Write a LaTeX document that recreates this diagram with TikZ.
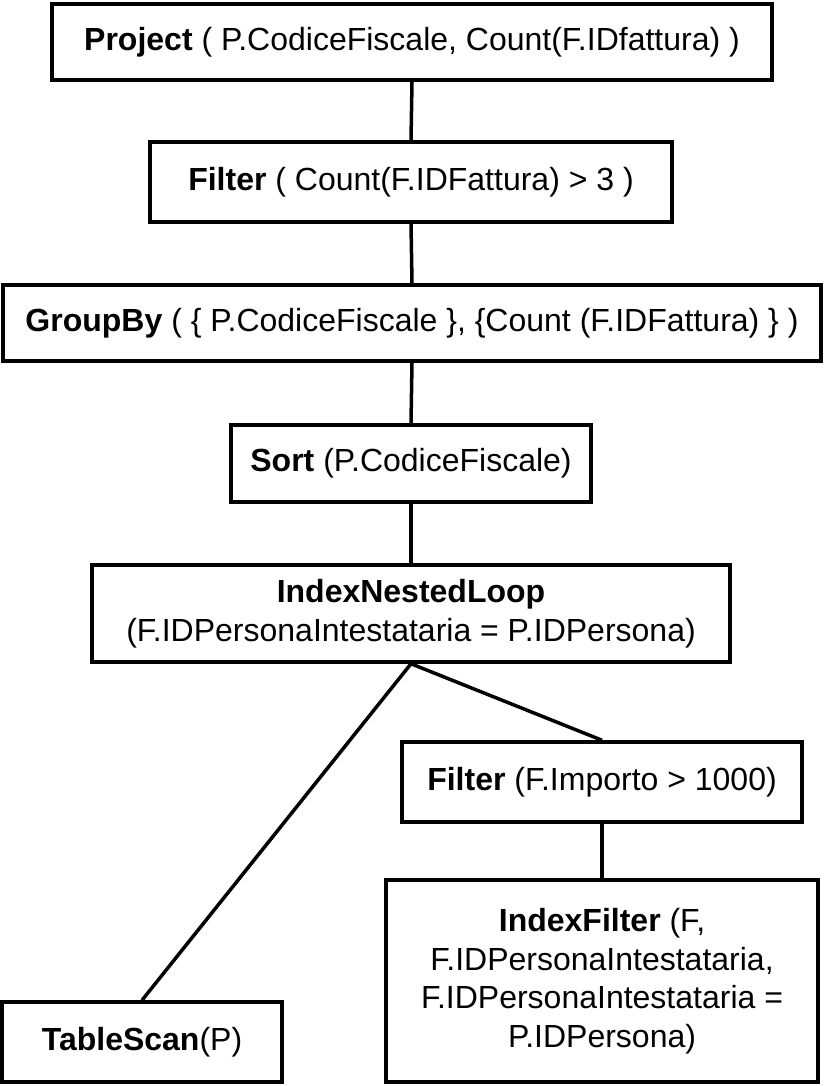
\documentclass[tikz,border=0pt]{standalone}
\usepackage{fontspec}
\setmainfont{Liberation Sans}
\begin{document}
\begin{tikzpicture}[x=1pt,y=-1pt,
  opbox/.style={draw=black, line width=3.5pt, fill=white, inner sep=0pt, align=center,
    font=\fontsize{32}{38.5}\selectfont},
  conn/.style={line width=3.5pt, draw=black}]
\useasboundingbox[fill=white] (0,0) rectangle (826,1086);
\node[opbox, minimum width=720, minimum height=76] (proj) at (412,42) {\textbf{Project} ( P.CodiceFiscale, Count(F.IDfattura) )};
\node[opbox, minimum width=522, minimum height=80] (filt) at (411,182) {\textbf{Filter} ( Count(F.IDFattura) > 3 )};
\node[opbox, minimum width=818, minimum height=76] (grp) at (412,323) {\textbf{GroupBy} ( \{ P.CodiceFiscale \}, \{Count (F.IDFattura) \} )};
\node[opbox, minimum width=360, minimum height=77] (sort) at (411,463.5) {\textbf{Sort} (P.CodiceFiscale)};
\node[opbox, minimum width=638, minimum height=97] (inl) at (411,613.5) {\textbf{IndexNestedLoop}\\(F.IDPersonaIntestataria = P.IDPersona)};
\node[opbox, minimum width=400, minimum height=80] (filt2) at (602,782) {\textbf{Filter} (F.Importo > 1000)};
\node[opbox, minimum width=432, minimum height=202] (ixf) at (602,981) {\textbf{IndexFilter} (F,\\F.IDPersonaIntestataria,\\F.IDPersonaIntestataria =\\P.IDPersona)};
\node[opbox, minimum width=280, minimum height=80] (ts) at (142,1042) {\textbf{TableScan}(P)};
\draw[conn] (proj.south) -- (filt.north);
\draw[conn] (filt.south) -- (grp.north);
\draw[conn] (grp.south) -- (sort.north);
\draw[conn] (sort.south) -- (inl.north);
\draw[conn] (inl.south) -- (ts.north);
\draw[conn] (inl.south) -- (filt2.north);
\draw[conn] (filt2.south) -- (ixf.north);
\end{tikzpicture}
\end{document}
